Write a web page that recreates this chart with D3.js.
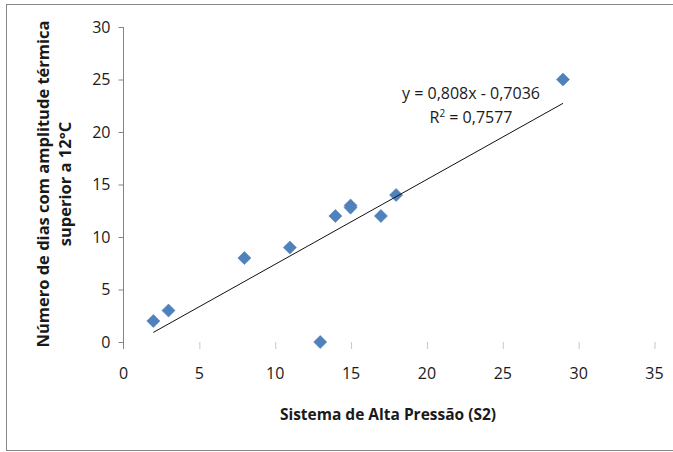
<!DOCTYPE html>
<html>
<head>
<meta charset="utf-8">
<script src="https://cdn.jsdelivr.net/npm/d3@7"></script>
<style>
  body { margin: 0; background: #fff; }
  text { font-family: "Open Sans", "Liberation Sans", sans-serif; fill: #1a1a1a; }
</style>
</head>
<body>
<svg id="chart" width="673" height="452"></svg>
<script>
// data
const xValues = [2, 3, 8, 11, 13, 14, 15, 15, 17, 18, 29];
const yValues = [2, 3, 8, 9, 0, 12, 13, 12.8, 12, 14, 25];
const xTicks = [0, 5, 10, 15, 20, 25, 30, 35];
const yTicks = [0, 5, 10, 15, 20, 25, 30];
const slope = 0.808, intercept = -0.7036;
const trendRange = [2, 29];
const eqLabel = "y = 0,808x - 0,7036";
const r2Value = "0,7577";
const xTitle = "Sistema de Alta Pressão (S2)";
const yTitle = ["Número de dias com amplitude térmica", "superior a 12°C"];

const svg = d3.select("#chart");

// outer frame
svg.append("rect")
    .attr("x", 6.5).attr("y", 4.5)
    .attr("width", 670).attr("height", 446)
    .attr("fill", "none").attr("stroke", "#868686");

const x = d3.scaleLinear().domain([0, 35]).range([123, 654]);
const y = d3.scaleLinear().domain([0, 30]).range([342, 27]);

const points = xValues.map((v, i) => ({ x: v, y: yValues[i] }));

// y axis
const yAxis = svg.append("g")
    .attr("transform", "translate(" + [x(0) + 0.5, 0] + ")")
    .call(d3.axisLeft(y).tickValues(yTicks).tickSize(5).tickPadding(8));
yAxis.select(".domain").attr("stroke", "#868686").attr("d", "M0," + y(30) + "V" + (y(0) + 7));
yAxis.selectAll(".tick line").attr("stroke", "#868686");
yAxis.selectAll(".tick text")
    .style("font-size", "16px").style("font-family", "Open Sans, sans-serif").attr("fill", "#1a1a1a");

// x axis (ticks only, axis line hardly visible in the picture)
const xAxis = svg.append("g")
    .attr("transform", "translate(" + [0, y(0)] + ")")
    .call(d3.axisBottom(x).tickValues(xTicks).tickSize(7).tickPadding(19));
xAxis.select(".domain").remove();
xAxis.selectAll(".tick line").attr("stroke", "#c8c8c8").attr("transform", "translate(0.5,0)");
xAxis.selectAll(".tick text")
    .style("font-size", "16px").style("font-family", "Open Sans, sans-serif").attr("fill", "#1a1a1a");
xAxis.selectAll(".tick").filter(d => d === 0).select("line").remove();

// markers
const diamond = d3.symbol().type(d3.symbolDiamond2).size(110);
svg.append("g").selectAll("path")
  .data(points)
  .join("path")
    .attr("d", diamond)
    .attr("transform", d => "translate(" + [x(d.x), y(d.y)] + ")")
    .attr("fill", "#4f81bd")
    .attr("stroke", "#4a7ab3").attr("stroke-width", 0.5);

// linear trend line
svg.append("line")
    .attr("x1", x(trendRange[0])).attr("y1", y(slope * trendRange[0] + intercept))
    .attr("x2", x(trendRange[1])).attr("y2", y(slope * trendRange[1] + intercept))
    .attr("stroke", "#111").attr("stroke-width", 1);

// equation label
svg.append("text")
    .attr("x", 471).attr("y", 99)
    .attr("text-anchor", "middle")
    .style("font-size", "16px")
    .text(eqLabel);
const r2 = svg.append("text")
    .attr("x", 471).attr("y", 123)
    .attr("text-anchor", "middle")
    .style("font-size", "16px");
r2.append("tspan").text("R");
r2.append("tspan").attr("dy", -6).style("font-size", "10px").text("2");
r2.append("tspan").attr("dy", 6).text(" = " + r2Value);

// axis titles
svg.append("text")
    .attr("x", 388).attr("y", 420)
    .attr("text-anchor", "middle")
    .style("font-size", "15.5px").style("font-weight", "bold")
    .text(xTitle);

svg.append("g")
    .attr("transform", "translate(" + [0, 184] + ") rotate(-90)")
  .selectAll("text")
  .data(yTitle)
  .join("text")
    .attr("x", 0)
    .attr("y", (d, i) => 49 + i * 22)
    .attr("text-anchor", "middle")
    .style("font-size", "16.5px").style("font-weight", "bold")
    .text(d => d);
</script>
</body>
</html>
